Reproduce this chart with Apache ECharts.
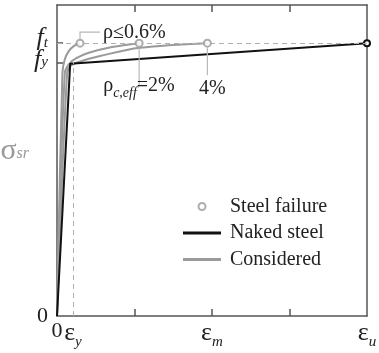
<!DOCTYPE html>
<html><head><meta charset="utf-8">
<script src="https://cdn.jsdelivr.net/npm/echarts@6/dist/echarts.min.js"></script>
<style>html,body{margin:0;padding:0;background:#fff}#c{width:379px;height:353px}</style>
</head><body><div id="c"></div>
<script>
// strain ticks (x) and labels
const strainTickValues = [0, 0.206, 2, 4];
const strainTickLabels = ['{z|0}', '{e|ε}{s|y}', '{e|ε}{s|m}', '{e|ε}{s|u}'];
const strainMinorTicks = [1, 2, 3];
// stress ticks (y) and labels
const stressTickValues = [0, 0.93, 1];
const stressTickLabels = ['{z|0}', '{f|f}{s|y}', '{f|f}{s|t}'];
const fy = 0.93, ft = 1, epsY = 0.206;
// naked steel (bilinear)
const nakedSteel = [[0, 0], [0.17, 0.925], [4, 1]];
// considered curves
const rho06 = [[0, 0], [0.07, 0.89], [0.10, 0.94], [0.15, 0.97], [0.22, 0.99], [0.297, 1.0]];
const rho2 = [[0, 0], [0.10, 0.89], [0.16, 0.925], [0.25, 0.945], [0.40, 0.964], [0.71, 0.986], [1.06, 1.0]];
const rho4 = [[0, 0], [0.13, 0.89], [0.18, 0.918], [0.30, 0.933], [0.555, 0.953], [1.07, 0.983], [1.94, 1.0]];
// steel failure points
const failurePoints = [[0.297, 1.0], [1.06, 1.0], [1.94, 1.0]];

const serif = 'Liberation Serif';
const chart = echarts.init(document.getElementById('c'), null, {renderer: 'canvas'});
const axisCol = '#555';
const grayCurve = '#9a9a9a';
const makeRich = padB => ({
  z: {fontFamily: serif, fontSize: 22, color: '#222'},
  f: {fontFamily: serif, fontStyle: 'italic', fontSize: 26, color: '#222', padding: [0, 0, padB, 0]},
  s: {fontFamily: serif, fontStyle: 'italic', fontSize: 15, color: '#222'}
});
const yLabelFmt = v => stressTickLabels[stressTickValues.indexOf(v)] || '';

const option = {
  animation: false,
  grid: {left: 57, right: 12, top: 5, bottom: 37, outerBoundsMode: 'none', containLabel: false},
  legend: {
    orient: 'vertical', left: 178, top: 191.5,
    itemWidth: 38, itemHeight: 7, itemGap: 6.5,
    textStyle: {fontFamily: serif, fontSize: 20, color: '#222', lineHeight: 20, padding: [0, 0, 0, 4]},
    data: [
      {name: 'Steel failure', icon: 'circle', itemStyle: {color: '#fff', borderColor: '#999', borderWidth: 2}},
      {name: 'Naked steel', icon: 'path://M0,0H38V3H0Z', itemStyle: {color: '#111', borderWidth: 0}},
      {name: 'Considered', icon: 'path://M0,0H38V3H0Z', itemStyle: {color: grayCurve, borderWidth: 0}}
    ]
  },
  xAxis: [{
    type: 'value', min: 0, max: 4, interval: 1,
    axisLine: {show: true, onZero: false, lineStyle: {color: axisCol, width: 1.5}},
    splitLine: {show: false},
    axisTick: {show: true, inside: true, length: 7, customValues: strainMinorTicks, lineStyle: {color: axisCol, width: 1.5}},
    axisLabel: {
      customValues: strainTickValues, margin: 4, hideOverlap: false,
      showMinLabel: true, showMaxLabel: true,
      formatter: v => strainTickLabels[strainTickValues.indexOf(v)] || '',
      rich: {
        z: {fontFamily: serif, fontSize: 22, color: '#222'},
        e: {fontFamily: serif, fontSize: 26, color: '#222', padding: [0, 0, 4, 0]},
        s: {fontFamily: serif, fontStyle: 'italic', fontSize: 15, color: '#222', verticalAlign: 'bottom'}
      }
    }
  }, {
    type: 'value', min: 0, max: 4, interval: 1, position: 'top',
    axisLine: {show: true, onZero: false, lineStyle: {color: axisCol, width: 1.5}},
    splitLine: {show: false},
    axisTick: {show: true, inside: true, length: 7, customValues: strainMinorTicks, lineStyle: {color: axisCol, width: 1.5}},
    axisLabel: {show: false}
  }],
  yAxis: [{
    type: 'value', min: 0, max: 1.14,
    name: '{g|σ}{s|sr}', nameLocation: 'middle', nameRotate: 0, nameGap: 28,
    nameTextStyle: {
      padding: [0, 0, 14, 0],
      rich: {
        g: {fontFamily: serif, fontSize: 30, color: '#999', padding: [0, 0, 5, 0]},
        s: {fontFamily: serif, fontStyle: 'italic', fontSize: 16, color: '#999'}
      }
    },
    axisLine: {show: true, onZero: false, lineStyle: {color: axisCol, width: 1.5}},
    splitLine: {show: false},
    axisTick: {show: true, inside: true, length: 6, customValues: [fy, ft], lineStyle: {color: axisCol, width: 1.5}},
    axisLabel: {
      customValues: [stressTickValues[0], stressTickValues[2]], margin: 9, hideOverlap: false,
      showMinLabel: true, showMaxLabel: true, formatter: yLabelFmt, rich: makeRich(11)
    }
  }, {
    type: 'value', min: 0, max: 1.14, position: 'right',
    axisLine: {show: true, onZero: false, lineStyle: {color: axisCol, width: 1.5}},
    splitLine: {show: false}, axisTick: {show: false}, axisLabel: {show: false}
  }, {
    // overlay axis carrying the f_y label only
    type: 'value', min: 0, max: 1.14, position: 'left', offset: 0,
    axisLine: {show: false}, splitLine: {show: false}, axisTick: {show: false},
    axisLabel: {
      customValues: [stressTickValues[1]], margin: 9, hideOverlap: false,
      showMinLabel: true, showMaxLabel: true, formatter: yLabelFmt, rich: makeRich(4)
    }
  }],
  series: [
    {
      name: 'Considered', type: 'line', data: rho06, smooth: 0.35, showSymbol: false,
      lineStyle: {color: grayCurve, width: 2}, itemStyle: {color: grayCurve}, z: 3,
      markLine: {
        silent: true, symbol: 'none', label: {show: false},
        lineStyle: {color: '#b0b0b0', type: [5, 4], width: 1},
        data: [
          [{coord: [0, ft]}, {coord: [4, ft]}],
          [{coord: [epsY, 0]}, {coord: [epsY, fy]}]
        ]
      }
    },
    {name: 'Considered', type: 'line', data: rho2, smooth: 0.35, showSymbol: false,
      lineStyle: {color: grayCurve, width: 2}, itemStyle: {color: grayCurve}, z: 3},
    {name: 'Considered', type: 'line', data: rho4, smooth: 0.35, showSymbol: false,
      lineStyle: {color: grayCurve, width: 2}, itemStyle: {color: grayCurve}, z: 3},
    {
      name: 'Naked steel', type: 'line',
      data: nakedSteel.map((p, i) => i === nakedSteel.length - 1 ? {value: p, symbol: 'emptyCircle', symbolSize: 6} : {value: p, symbol: 'none'}),
      showAllSymbol: true,
      lineStyle: {color: '#111', width: 2}, itemStyle: {color: '#111', borderWidth: 1.5}, z: 4
    },
    {
      name: 'Steel failure', type: 'scatter', data: failurePoints,
      symbol: 'emptyCircle', symbolSize: 7,
      itemStyle: {color: '#999', borderWidth: 1.5}, z: 5
    }
  ]
};
chart.setOption(option);

// annotation leaders and labels anchored on failure points
const P = failurePoints.map(p => chart.convertToPixel({xAxisIndex: 0, yAxisIndex: 0}, p));
const lead = {stroke: '#b8b8b8', lineWidth: 1.2, fill: null};
const txt = {fontFamily: serif, fontSize: 20, fill: '#222'};
chart.setOption({
  graphic: [
    {type: 'polyline', silent: true, z: 10, shape: {points: [[P[0][0], P[0][1] - 4], [P[0][0], P[0][1] - 11], [P[0][0] + 20, P[0][1] - 11]]}, style: lead},
    {type: 'text', silent: true, z: 10, x: P[0][0] + 23, y: P[0][1] - 10,
      style: Object.assign({text: 'ρ≤0.6%', verticalAlign: 'middle'}, txt)},
    {type: 'polyline', silent: true, z: 10, shape: {points: [[P[1][0], P[1][1] + 4], [P[1][0], P[1][1] + 42]]}, style: lead},
    {type: 'text', silent: true, z: 11, x: P[1][0] - 36, y: P[1][1] + 45,
      style: {text: '{r|ρ}{s|c,eff}{n|=2%}', verticalAlign: 'middle',
        rich: {
          r: {fontFamily: serif, fontSize: 20, fill: '#222', padding: [0, 0, 5, 0]},
          s: {fontFamily: serif, fontStyle: 'italic', fontSize: 14, fill: '#222', verticalAlign: 'bottom'},
          n: {fontFamily: serif, fontSize: 20, fill: '#222', padding: [0, 0, 5, 0]}
        }}},
    {type: 'polyline', silent: true, z: 10, shape: {points: [[P[2][0], P[2][1] + 4], [P[2][0], P[2][1] + 32]]}, style: lead},
    {type: 'text', silent: true, z: 10, x: P[2][0] + 5, y: P[2][1] + 46,
      style: Object.assign({text: '4%', align: 'center', verticalAlign: 'middle'}, txt)}
  ]
});
</script></body></html>
